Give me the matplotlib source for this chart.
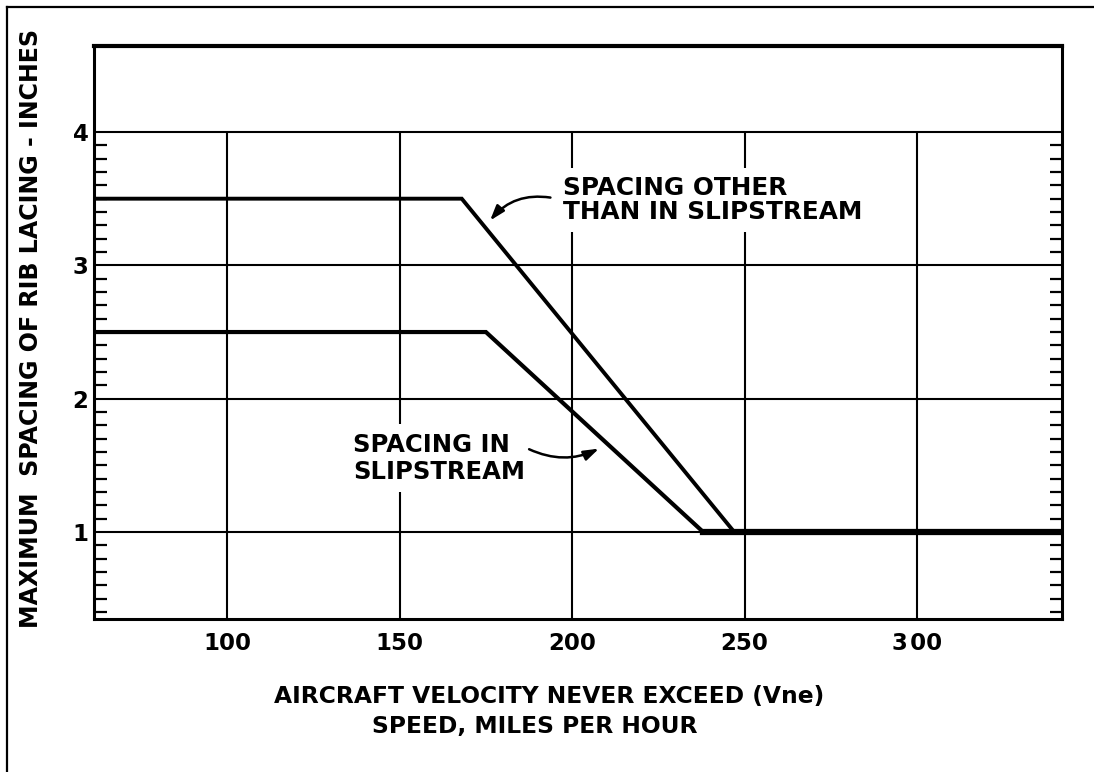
import numpy as np
import matplotlib
matplotlib.use("Agg")
import matplotlib.pyplot as plt
from matplotlib.ticker import FixedLocator, NullFormatter

# ---- data ----
other_x = [55, 168, 247, 350]
other_y = [3.5, 3.5, 1.0, 1.0]
slip_x = [55, 175, 238, 350]
slip_y = [2.5, 2.5, 1.0, 1.0]
x_ticks = [100, 150, 200, 250, 300]
x_tick_labels = ["100", "150", "200", "250", "3\u200a00"]
y_ticks = [1, 2, 3, 4]
y_tick_labels = ["1", "2", "3", "4"]

plt.rcParams['font.family'] = ['DejaVu Sans']
FS = 16.5
W, H = 1094, 772
fig = plt.figure(figsize=(W / 100, H / 100), dpi=100)
ax = fig.add_axes([94 / W, 1 - 619 / H, (1062 - 94) / W, (619 - 46) / H])
ax.set_xlim(61.4, 342.0)
ax.set_ylim(0.348, 4.645)

# grid
for yv in y_ticks:
    ax.axhline(yv, color='black', lw=1.5, zorder=1)
ax.vlines(x_ticks, 0.348, 4.0, color='black', lw=1.5, zorder=1)

# curves
ax.plot(other_x, other_y, color='black', lw=2.8, solid_joinstyle='miter', zorder=3)
ax.plot(slip_x, slip_y, color='black', lw=3.0, solid_joinstyle='miter', zorder=3)
ax.plot(slip_x[2:], slip_y[2:], color='black', lw=4.5, zorder=3)

# spines
for s in ['left', 'bottom', 'right']:
    ax.spines[s].set_linewidth(2.2)
ax.spines['top'].set_linewidth(3.0)

# ticks
ax.set_xticks(x_ticks)
ax.set_xticklabels(x_tick_labels, fontsize=FS, fontweight='bold')
ax.tick_params(axis='x', length=0, pad=9)
ax.set_yticks(y_ticks)
ax.set_yticklabels(y_tick_labels, fontsize=FS, fontweight='bold')
ax.tick_params(axis='y', which='major', length=0, pad=4)
minor = [v for v in np.round(np.arange(0.4, 3.95, 0.1), 2) if abs(v - round(v)) > 1e-6]
ax.yaxis.set_minor_locator(FixedLocator(minor))
ax.yaxis.set_minor_formatter(NullFormatter())
ax.tick_params(axis='y', which='minor', direction='in', length=9, width=1.6,
               left=True, right=True)

# labels
fig.text(31 / W, 1 - 328 / H, "MAXIMUM  SPACING OF RIB LACING - INCHES",
         fontsize=17.1, fontweight='bold', rotation=90, ha='center', va='center')
fig.text(549 / W, 1 - 697 / H, "AIRCRAFT VELOCITY NEVER EXCEED (Vne)",
         fontsize=16.8, fontweight='bold', ha='center', va='center')
fig.text(535 / W, 1 - 727 / H, "SPEED, MILES PER HOUR",
         fontsize=16.8, fontweight='bold', ha='center', va='center')

# annotations
box = dict(facecolor='white', edgecolor='none', pad=6)
ax.text(197.4, 3.49, "SPACING OTHER\nTHAN IN SLIPSTREAM", fontsize=17.8,
        fontweight='bold', ha='left', va='center', linespacing=0.98,
        bbox=box, zorder=4)
ax.text(136.5, 1.554, "SPACING IN\nSLIPSTREAM", fontsize=17.5,
        fontweight='bold', ha='left', va='center', linespacing=1.15,
        bbox=box, zorder=4)
ax.annotate("", xy=(175.7, 3.32), xytext=(194.5, 3.505),
            arrowprops=dict(arrowstyle='-|>,head_length=0.9,head_width=0.3',
                            color='black', lw=1.8,
                            connectionstyle='arc3,rad=0.3'), zorder=5)
ax.annotate("", xy=(208.5, 1.635), xytext=(186.8, 1.63),
            arrowprops=dict(arrowstyle='-|>,head_length=0.9,head_width=0.3',
                            color='black', lw=1.8,
                            connectionstyle='arc3,rad=0.25'), zorder=5)

# outer frame
fig.add_artist(plt.Line2D([7 / W, 7 / W], [0, 1 - 7 / H], transform=fig.transFigure,
                          color='black', lw=1.6))
fig.add_artist(plt.Line2D([7 / W, 1], [1 - 7 / H, 1 - 7 / H], transform=fig.transFigure,
                          color='black', lw=1.6))

fig.savefig("out.png", dpi=100, facecolor='white')
